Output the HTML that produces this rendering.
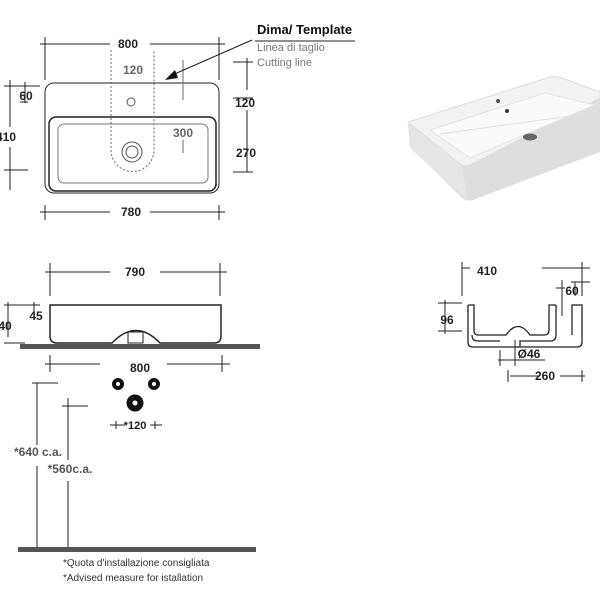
<!DOCTYPE html>
<html><head><style>body{margin:0;background:#fff}svg{display:block}text{font-family:"Liberation Sans",sans-serif}</style></head>
<body>
<svg width="600" height="600" viewBox="0 0 600 600" xmlns="http://www.w3.org/2000/svg">
<g stroke="#222" stroke-width="1" fill="none">
<rect x="45" y="83" width="174" height="110" rx="9"/>
<rect x="49" y="117" width="167" height="74" rx="7" stroke-width="1.5"/>
<rect x="58" y="124" width="150" height="59" rx="6" stroke="#777"/>
<path d="M111 50 V150 A21.5 21.5 0 0 0 154 150 V50" stroke="#666" stroke-dasharray="2,2"/>
<circle cx="131" cy="102" r="4" stroke="#555"/>
<circle cx="132" cy="152" r="10" stroke="#555"/><circle cx="132" cy="152" r="6" stroke="#555"/>
<path d="M45 37V80M219 37V80M40 44H110M150 44H225"/>
<path d="M10 80V127M10 147V190M4 86H40M4 170H28M25 82V103M20 102H28"/>
<path d="M247 58V90M247 110V172M233 62H253M233 98H253M233 172H253"/>
<path d="M183 60V100M183 140V153" stroke="#666"/>
<path d="M45 205V220M219 205V220M40 212H110M150 212H225"/>
<path d="M255 41H355"/><path d="M252 40L170 76"/>
</g>
<path d="M165 80L175 70L178 78Z" fill="#111"/>
<g font-weight="bold" font-size="12" fill="#222" text-anchor="middle">
<text x="128" y="48">800</text><text x="133" y="74" fill="#666">120</text>
<text x="26" y="100">60</text><text x="6" y="141">410</text>
<text x="245" y="107">120</text><text x="246" y="157">270</text>
<text x="183" y="137" fill="#666">300</text><text x="131" y="216">780</text>
<text x="135" y="276">790</text>
<text x="487" y="275">410</text><text x="572" y="295">60</text><text x="447" y="324">96</text>
<text x="529" y="358">Ø46</text><text x="545" y="380">260</text>
<text x="36" y="320">45</text><text x="5" y="330">40</text>
<text x="140" y="372">800</text><text x="135" y="429" font-size="11">*120</text>
<text x="38" y="456" fill="#555">*640 c.a.</text><text x="70" y="473" fill="#555">*560c.a.</text>
</g>
<text x="257" y="34" font-weight="bold" font-size="13" fill="#111">Dima/ Template</text>
<text x="257" y="51" font-size="11" fill="#777">Linea di taglio</text>
<text x="257" y="66" font-size="11" fill="#777">Cutting line</text>
<g stroke="#222" fill="none">
<path d="M50 263V296M220 263V296M45 272H110M160 272H227"/>
<path d="M50 305H221V336Q221 343 214 343H160Q136 318 112 343H57Q50 343 50 336Z" stroke-width="1.5"/>
<rect x="128" y="332" width="15" height="11"/>
<path d="M4 305H40M34 302V319M8 302V337M4 343H25"/>
<path d="M50 355V372M222 355V372M45 364H100M167 364H230"/>
<path d="M37 383V445M37 466V548M32 383H58M68 398V460M68 481V548M62 406H88"/>
<path d="M110 425H125M150 425H162M116 421V429M155 421V429"/>
</g>
<rect x="20" y="344" width="240" height="5" fill="#555"/>
<rect x="18" y="547" width="238" height="5" fill="#555"/>
<g fill="#111"><circle cx="118" cy="384" r="6"/><circle cx="154" cy="384" r="6"/><circle cx="135" cy="403" r="8.5"/></g>
<g fill="#fff"><circle cx="118" cy="384" r="2"/><circle cx="154" cy="384" r="2"/><circle cx="135" cy="403" r="2.5"/></g>
<text x="63" y="566" font-size="10" fill="#333">*Quota d'installazione consigliata</text>
<text x="63" y="581" font-size="10" fill="#333">*Advised measure for istallation</text>
<!-- photo -->
<path d="M408 124L410 146Q412 150 416 152L462 198Q467 202 473 200L600 152V96Z" fill="#dedede"/>
<path d="M408 124L462 162L467 200L412 150Z" fill="#e6e6e6"/>
<path d="M408 122L550 77Q556 76 562 78L600 92V98L470 165Q465 167 460 164Z" fill="#f2f2f2" stroke="#ddd"/>
<path d="M430 130L545 93L595 105L470 158Z" fill="#fafafa" stroke="#e2e2e2"/>
<path d="M440 134L600 112" stroke="#e0e0e0"/>
<circle cx="498" cy="101" r="2" fill="#555"/><circle cx="507" cy="111" r="2" fill="#333"/>
<ellipse cx="530" cy="137" rx="7" ry="3.5" fill="#666"/>
<!-- side view -->
<g stroke="#222" fill="none">
<path d="M462 262V296M462 268H470M542 268H590M582 262V296M575 282V296M562 280V316M556 288H565M571 282H590"/>
<path d="M438 303H462M438 331H462M445 300V334"/>
<path d="M468 305V342Q468 347 473 347H577Q582 347 582 342V305H572V335M556 305H549V330Q549 335 544 335H530Q518 318 506 335H478Q474 335 474 330V305H468M556 305V335Q556 341 550 341H520V347M500 341H478Q472 341 472 335" stroke-width="1.3"/>
<path d="M500 350V366M515 340V366M498 360H545M510 376H540M560 376H585M508 370V382M582 370V382"/>
</g>
</svg>
</body></html>
